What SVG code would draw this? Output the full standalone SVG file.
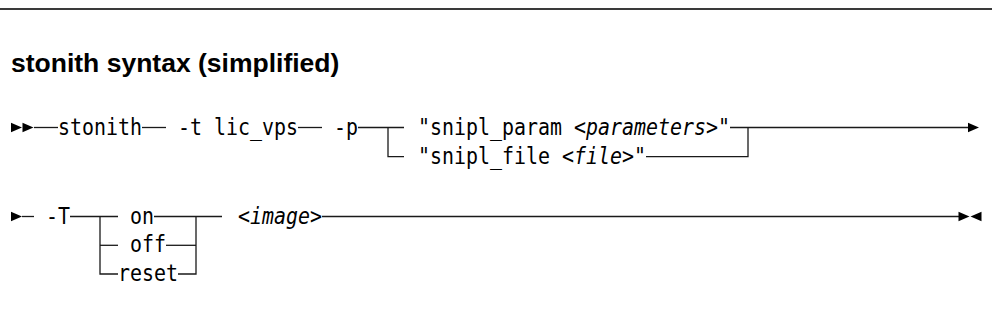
<svg xmlns="http://www.w3.org/2000/svg" width="992" height="331" viewBox="0 0 992 331">
<style>
.t{font-family:"DejaVu Sans Mono",monospace;font-size:23px;fill:#000}
.i{font-style:italic}
.h{font-family:"Liberation Sans",Arial,sans-serif;font-weight:bold;font-size:26.5px;fill:#000}
.ln{stroke:#1a1a1a;stroke-width:1.3;fill:none}
.ar{fill:#000}
</style>
<defs>
<path id="tri" d="M0 -4.75 L11 0 L0 4.75Z"/>
</defs>
<rect width="992" height="331" fill="#fff"/>
<line x1="0" y1="9" x2="992" y2="9" stroke="#3a3a3a" stroke-width="1.8"/>
<g id="title"><text class="h" x="11" y="72">stonith syntax (simplified)</text></g>

<g id="connectors">
  <use href="#tri" class="ar" transform="translate(11,127.5)"/>
  <use href="#tri" class="ar" transform="translate(22.5,127.5)"/>
  <path class="ln" d="M34 127.5H58"/>
  <path class="ln" d="M142 127.5H166"/>
  <path class="ln" d="M298 127.5H322"/>
  <path class="ln" d="M358 127.5H404"/>
  <path class="ln" d="M388 127.5V156.7H404"/>
  <path class="ln" d="M730 127.5H969"/>
  <path class="ln" d="M646 156.7H748V127.5"/>
  <use href="#tri" class="ar" transform="translate(968,127.5)"/>

  <use href="#tri" class="ar" transform="translate(11,216.5)"/>
  <path class="ln" d="M22 216.5H34"/>
  <path class="ln" d="M70 216.5H118"/>
  <path class="ln" d="M100 216.5V274H118"/>
  <path class="ln" d="M100 245.3H118"/>
  <path class="ln" d="M154 216.5H222"/>
  <path class="ln" d="M166 245.3H196"/>
  <path class="ln" d="M178 274H196V216.5"/>
  <path class="ln" d="M322 216.5H959"/>
  <use href="#tri" class="ar" transform="translate(958.5,216.5)"/>
  <use href="#tri" class="ar" transform="translate(981.5,216.5) scale(-1,1)"/>
</g>

<g id="stonith"><text class="t" transform="translate(58 135) scale(0.8667 1)">stonith</text></g>
<g id="opt_t"><text class="t" transform="translate(166 135) scale(0.8667 1)" xml:space="preserve"> -t lic_vps</text></g>
<g id="opt_p"><text class="t" transform="translate(322 135) scale(0.8667 1)" xml:space="preserve"> -p</text></g>
<g id="snipl_param"><text class="t" transform="translate(418 135) scale(0.8667 1)">"snipl_param &lt;<tspan class="i">parameters</tspan>&gt;"</text></g>
<g id="snipl_file"><text class="t" transform="translate(418 164) scale(0.8667 1)">"snipl_file &lt;<tspan class="i">file</tspan>&gt;"</text></g>

<g id="opt_T"><text class="t" transform="translate(46 223.5) scale(0.8667 1)">-T</text></g>
<g id="on"><text class="t" transform="translate(130 223.5) scale(0.8667 1)">on</text></g>
<g id="off"><text class="t" transform="translate(130 252.3) scale(0.8667 1)">off</text></g>
<g id="reset"><text class="t" transform="translate(118 281) scale(0.8667 1)">reset</text></g>
<g id="image"><text class="t" transform="translate(238 223.5) scale(0.8667 1)">&lt;<tspan class="i">image</tspan>&gt;</text></g>
</svg>
